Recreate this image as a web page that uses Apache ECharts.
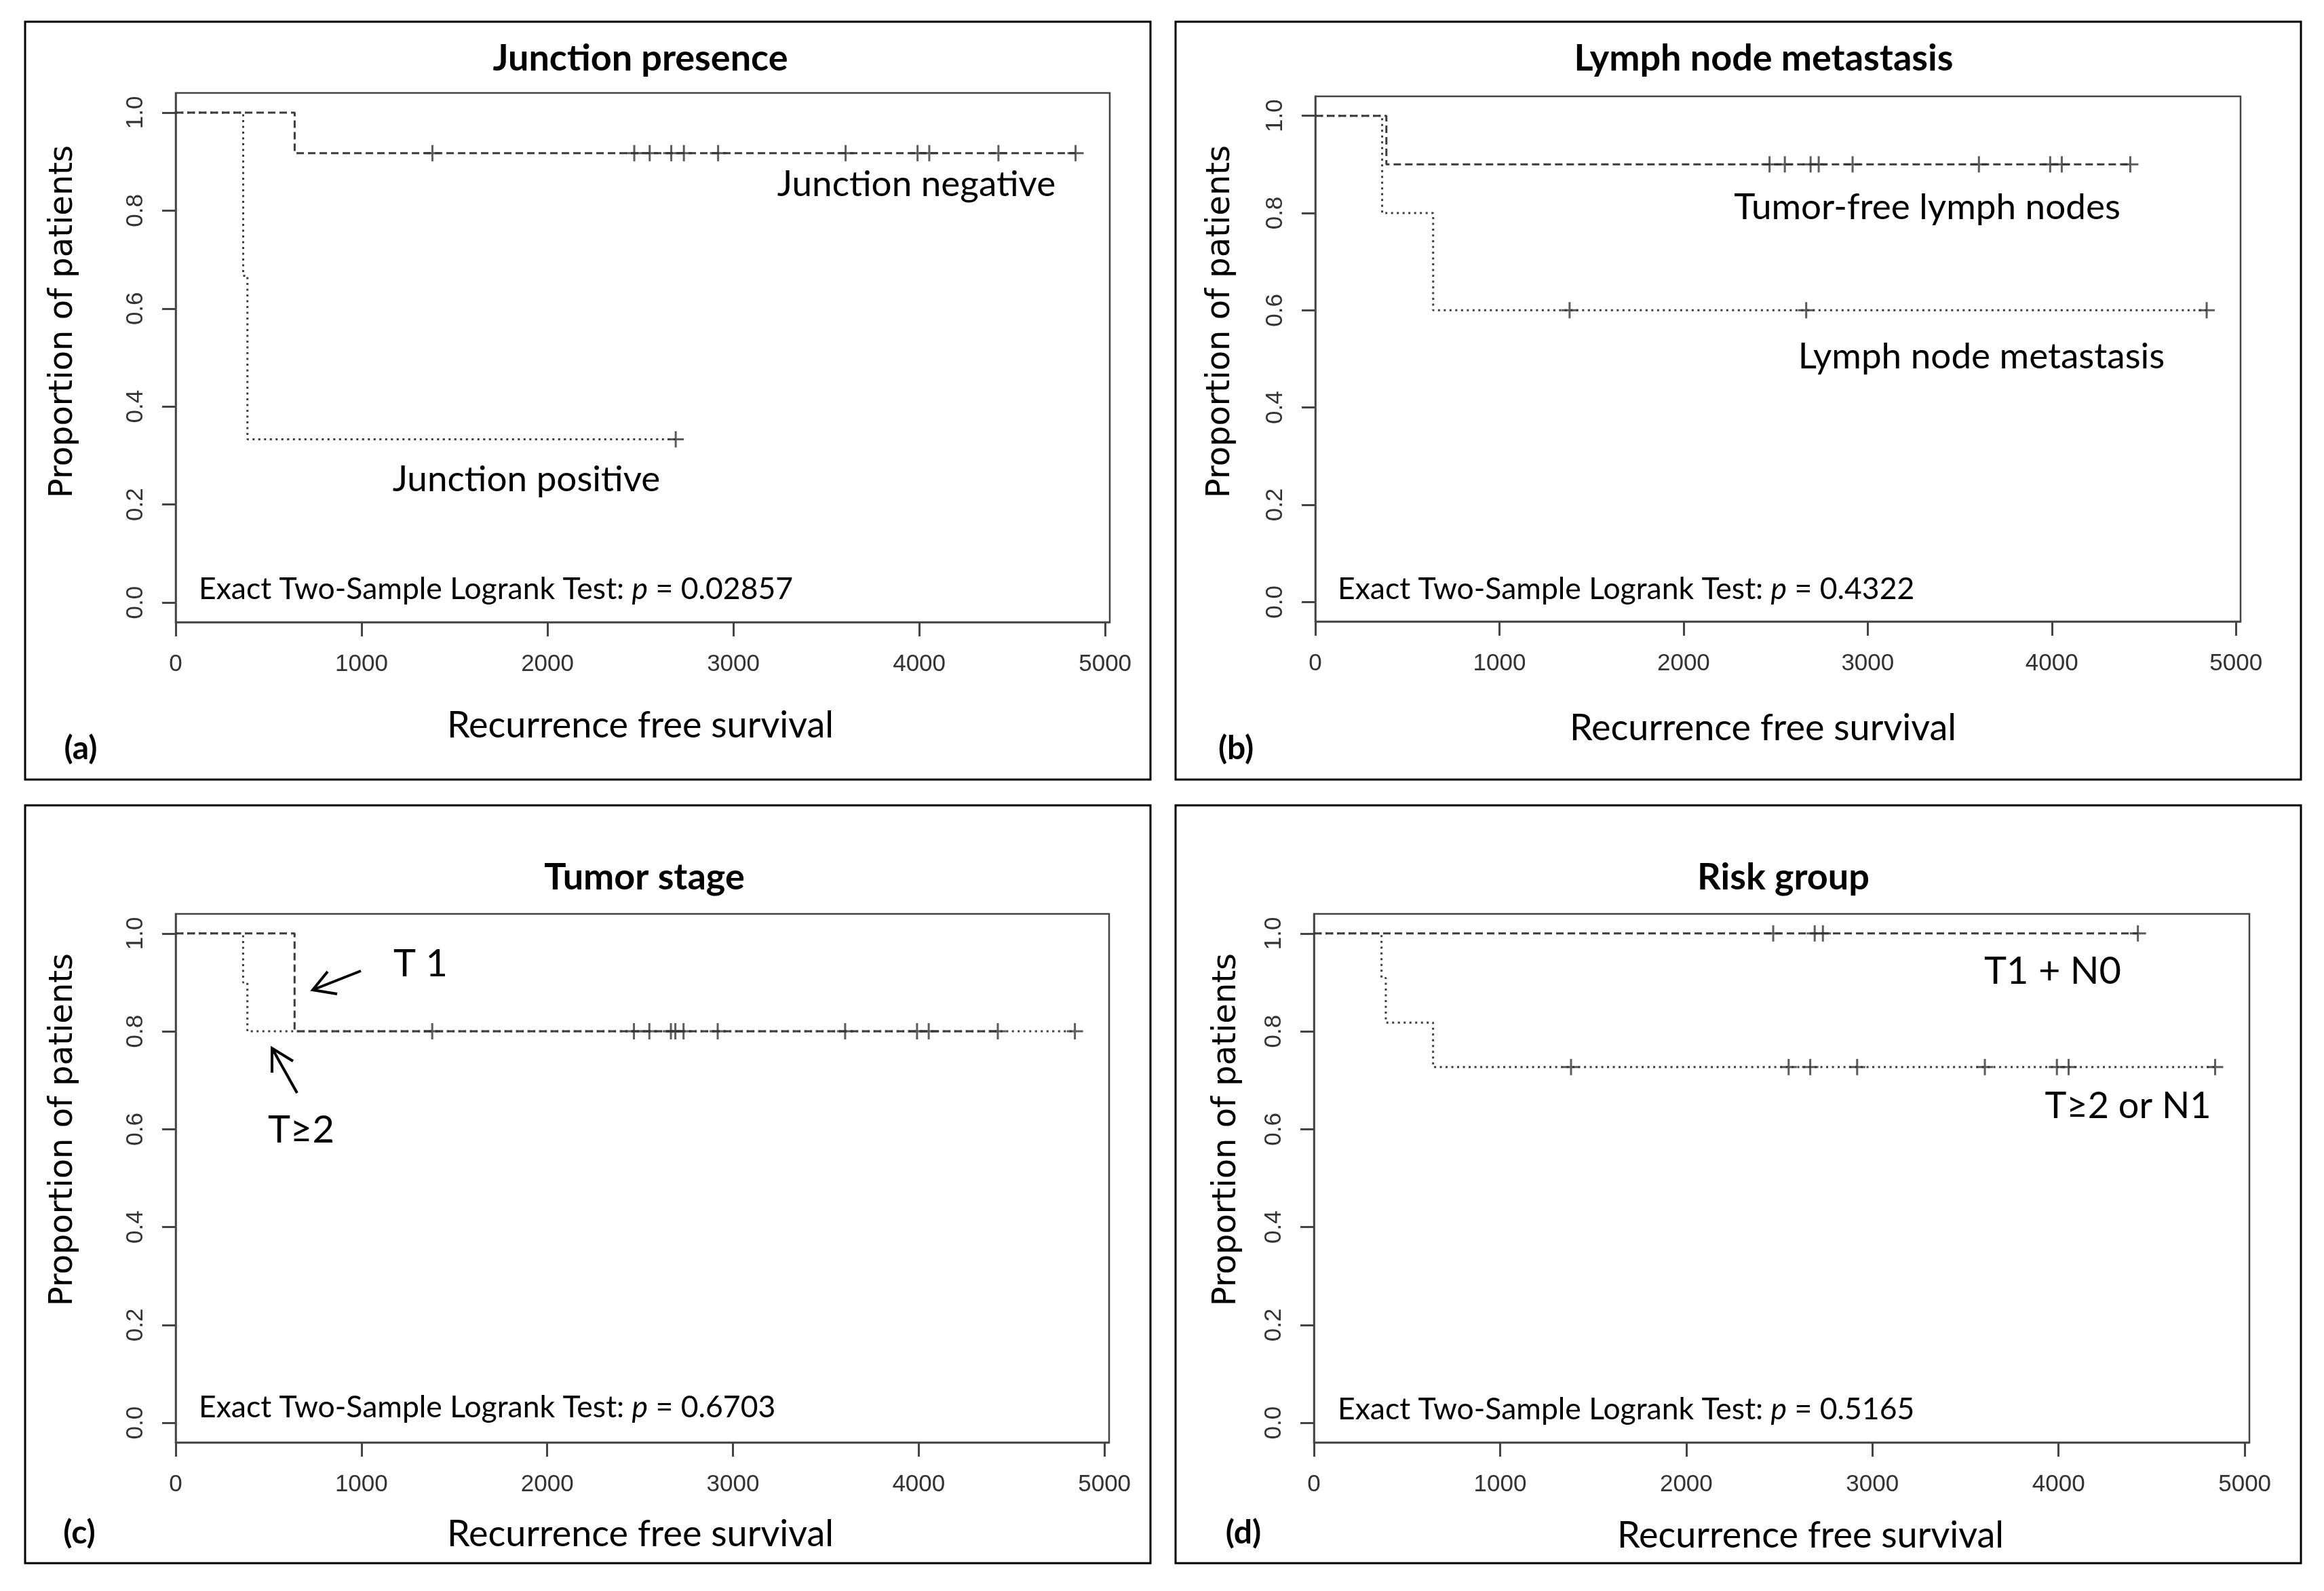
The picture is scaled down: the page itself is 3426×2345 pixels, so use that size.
<!DOCTYPE html>
<html lang="en">
<head>
    <meta charset="UTF-8">
    <title>Recurrence free survival</title>
    <style>
        html, body {
            margin: 0;
            padding: 0;
            background: #fff;
        }
        .km {
            width: 3426px;
            height: 2345px;
        }
    </style>
    <script src="https://cdn.jsdelivr.net/npm/echarts@6.0.0/dist/echarts.min.js"></script>
</head>
<body>
    <div class="km"></div>
    <script>

        //axis ticks
        var timeTicks = [0, 1000, 2000, 3000, 4000, 5000];
        var propTicks = [0, 0.2, 0.4, 0.6, 0.8, 1.0];

        //(a) Junction presence
        var juncNegTime = [0, 640, 4841];
        var juncNegSurv = [1, 0.917, 0.917];
        var juncNegCensor = [1381, 2467, 2550, 2666, 2734, 2918, 3604, 3991, 4054, 4426, 4841];
        var juncPosTime = [0, 363, 386, 2690];
        var juncPosSurv = [1, 0.667, 0.333, 0.333];
        var juncPosCensor = [2690];

        //(b) Lymph node metastasis
        var nodeFreeTime = [0, 386, 4426];
        var nodeFreeSurv = [1, 0.9, 0.9];
        var nodeFreeCensor = [2467, 2550, 2690, 2734, 2918, 3604, 3991, 4054, 4426];
        var nodeMetTime = [0, 363, 640, 4841];
        var nodeMetSurv = [1, 0.8, 0.6, 0.6];
        var nodeMetCensor = [1381, 2666, 4841];

        //(c) Tumor stage
        var t1Time = [0, 640, 4426];
        var t1Surv = [1, 0.8, 0.8];
        var t1Censor = [2467, 2690, 2734, 4426];
        var t2Time = [0, 363, 386, 4841];
        var t2Surv = [1, 0.9, 0.8, 0.8];
        var t2Censor = [1381, 2550, 2666, 2918, 3604, 3991, 4054, 4841];

        //(d) Risk group
        var lowRiskTime = [0, 4426];
        var lowRiskSurv = [1, 1];
        var lowRiskCensor = [2467, 2690, 2734, 4426];
        var highRiskTime = [0, 363, 386, 640, 4841];
        var highRiskSurv = [1, 0.909, 0.818, 0.727, 0.727];
        var highRiskCensor = [1381, 2550, 2666, 2918, 3604, 3991, 4054, 4841];

        var titles = ['Junction presence', 'Lymph node metastasis', 'Tumor stage', 'Risk group'];
        var pValues = ['0.02857', '0.4322', '0.6703', '0.5165'];
        var letters = ['(a)', '(b)', '(c)', '(d)'];

        var DASHED = [11, 6];
        var DOTTED = [3, 5.5];
        var PLUS = 'path://M10.5,0h3v10.5h10.5v3h-10.5v10.5h-3v-10.5h-10.5v-3h10.5z';
        var LABEL_FONT = 'Lato';
        var AXIS_GRAY = '#444';

        //every panel: where its plot box sits and which curves it draws
        var panels = [
            {
                grid: {left: 259, top: 137, width: 1377, height: 780},
                curves: [
                    {time: juncNegTime, surv: juncNegSurv, censor: juncNegCensor, dash: DASHED},
                    {time: juncPosTime, surv: juncPosSurv, censor: juncPosCensor, dash: DOTTED}
                ]
            },
            {
                grid: {left: 1939, top: 142, width: 1364, height: 774},
                curves: [
                    {time: nodeFreeTime, surv: nodeFreeSurv, censor: nodeFreeCensor, dash: DASHED},
                    {time: nodeMetTime, surv: nodeMetSurv, censor: nodeMetCensor, dash: DOTTED}
                ]
            },
            {
                grid: {left: 259, top: 1347, width: 1376, height: 779},
                curves: [
                    {time: t2Time, surv: t2Surv, censor: t2Censor, dash: DOTTED},
                    {time: t1Time, surv: t1Surv, censor: t1Censor, dash: DASHED}
                ]
            },
            {
                grid: {left: 1937, top: 1347, width: 1379, height: 779},
                curves: [
                    {time: lowRiskTime, surv: lowRiskSurv, censor: lowRiskCensor, dash: DASHED},
                    {time: highRiskTime, surv: highRiskSurv, censor: highRiskCensor, dash: DOTTED}
                ]
            }
        ];

        //survival level of a step curve at time t
        function survAt(time, surv, t) {
            var s = surv[0];
            for (var i = 0; i < time.length; i++) {
                if (time[i] <= t) s = surv[i];
            }
            return s;
        }

        var grids = [], xAxes = [], yAxes = [], series = [];

        panels.forEach(function (p, i) {
            grids.push(Object.assign({
                show: true,
                borderColor: AXIS_GRAY,
                borderWidth: 2.5,
                backgroundColor: 'transparent'
            }, p.grid));

            xAxes.push({
                gridIndex: i,
                type: 'value',
                position: 'bottom',
                min: 0,
                max: 5025,
                axisLine: {show: true, onZero: false, lineStyle: {color: AXIS_GRAY, width: 2.5}},
                splitLine: {show: false},
                axisTick: {
                    show: true,
                    inside: false,
                    customValues: timeTicks,
                    length: 21,
                    lineStyle: {color: AXIS_GRAY, width: 3}
                },
                axisLabel: {
                    customValues: timeTicks,
                    margin: 45,
                    fontSize: 35,
                    fontFamily: 'Liberation Sans',
                    color: '#333',
                    formatter: function (v) { return String(v); }
                }
            });

            yAxes.push({
                gridIndex: i,
                type: 'value',
                position: 'left',
                min: -0.04,
                max: 1.04,
                axisLine: {show: true, onZero: false, lineStyle: {color: AXIS_GRAY, width: 2.5}},
                splitLine: {show: false},
                axisTick: {
                    show: true,
                    inside: false,
                    customValues: propTicks,
                    length: 20,
                    lineStyle: {color: AXIS_GRAY, width: 3}
                },
                axisLabel: {
                    customValues: propTicks,
                    rotate: 90,
                    margin: 41,
                    fontSize: 35,
                    fontFamily: 'Liberation Sans',
                    color: '#333',
                    formatter: function (v) { return v.toFixed(1); }
                }
            });

            p.curves.forEach(function (c) {
                //step curve
                series.push({
                    type: 'line',
                    xAxisIndex: i,
                    yAxisIndex: i,
                    step: 'end',
                    symbol: 'none',
                    silent: true,
                    data: c.time.map(function (t, k) { return [t, c.surv[k]]; }),
                    lineStyle: {color: '#3c3c3c', width: 3, type: c.dash}
                });
                //censoring marks
                series.push({
                    type: 'scatter',
                    xAxisIndex: i,
                    yAxisIndex: i,
                    symbol: PLUS,
                    symbolSize: 24,
                    silent: true,
                    itemStyle: {color: '#333'},
                    data: c.censor.map(function (t) { return [t, survAt(c.time, c.surv, t)]; }),
                    z: 3
                });
            });
        });

        //texts, frames and arrows
        var frames = [
            [37, 32], [1733, 32], [37, 1187], [1733, 1187]
        ];
        var titlePos = [[944, 87], [2600, 87], [950, 1294], [2629, 1294]];
        var yNamePos = [[94, 474], [1800, 474], [94, 1665], [1809, 1665]];
        var xNamePos = [[944, 1070], [2599, 1074], [944, 2262], [2669, 2264]];
        var letterPos = [[119, 1104], [1822, 1104], [117, 2260], [1833, 2260]];
        var pPos = [[293, 869], [1972, 869], [293, 2075], [1972, 2078]];

        function txt(text, x, y, size, opts) {
            opts = opts || {};
            return {
                type: 'text',
                x: x,
                y: y,
                rotation: opts.rotation || 0,
                silent: true,
                style: {
                    text: text,
                    fontSize: size,
                    fontFamily: opts.family || LABEL_FONT,
                    fontWeight: opts.weight || 'normal',
                    fill: '#000',
                    align: opts.align || 'center',
                    verticalAlign: 'middle',
                    rich: opts.rich
                }
            };
        }

        var graphics = [];
        frames.forEach(function (f, i) {
            graphics.push({
                type: 'rect',
                silent: true,
                shape: {x: f[0], y: f[1], width: 1659, height: 1117},
                style: {fill: 'none', stroke: '#000', lineWidth: 3}
            });
            graphics.push(txt(titles[i], titlePos[i][0], titlePos[i][1], 54, {weight: 'bold'}));
            graphics.push(txt('Proportion of patients', yNamePos[i][0], yNamePos[i][1], 48,
                {family: 'DejaVu Sans', rotation: Math.PI / 2}));
            graphics.push(txt('Recurrence free survival', xNamePos[i][0], xNamePos[i][1], 54));
            graphics.push(txt(letters[i], letterPos[i][0], letterPos[i][1], 48, {weight: 'bold'}));
            graphics.push(txt('Exact Two-Sample Logrank Test: {i|p} = ' + pValues[i],
                pPos[i][0], pPos[i][1], 44.5, {
                    align: 'left',
                    rich: {i: {fontStyle: 'italic', fontSize: 44.5, fontFamily: LABEL_FONT, fill: '#000'}}
                }));
        });

        //curve labels
        graphics.push(txt('Junction negative', 1351, 272, 53));
        graphics.push(txt('Junction positive', 776, 707, 53));
        graphics.push(txt('Tumor-free lymph nodes', 2841, 306, 53));
        graphics.push(txt('Lymph node metastasis', 2921, 526, 53));
        graphics.push(txt('T 1', 620, 1421, 56));
        graphics.push(txt('T\u22652', 444, 1666, 56));
        graphics.push(txt('T1 + N0', 3026, 1432, 56));
        graphics.push(txt('T\u22652 or N1', 3137, 1631, 54));

        //arrows in (c)
        var arrowStyle = {fill: 'none', stroke: '#000', lineWidth: 4};
        graphics.push({type: 'polyline', silent: true, shape: {points: [[532, 1431], [461, 1459]]}, style: arrowStyle});
        graphics.push({type: 'polyline', silent: true, shape: {points: [[483, 1432], [461, 1459], [497, 1465]]}, style: arrowStyle});
        graphics.push({type: 'polyline', silent: true, shape: {points: [[438, 1611], [401, 1545]]}, style: arrowStyle});
        graphics.push({type: 'polyline', silent: true, shape: {points: [[401, 1581], [401, 1545], [432, 1564]]}, style: arrowStyle});

        var chart = echarts.init(document.querySelector('.km'));
        chart.setOption({
            animation: false,
            backgroundColor: '#fff',
            grid: grids,
            xAxis: xAxes,
            yAxis: yAxes,
            series: series,
            graphic: graphics
        });
    </script>
</body>
</html>
